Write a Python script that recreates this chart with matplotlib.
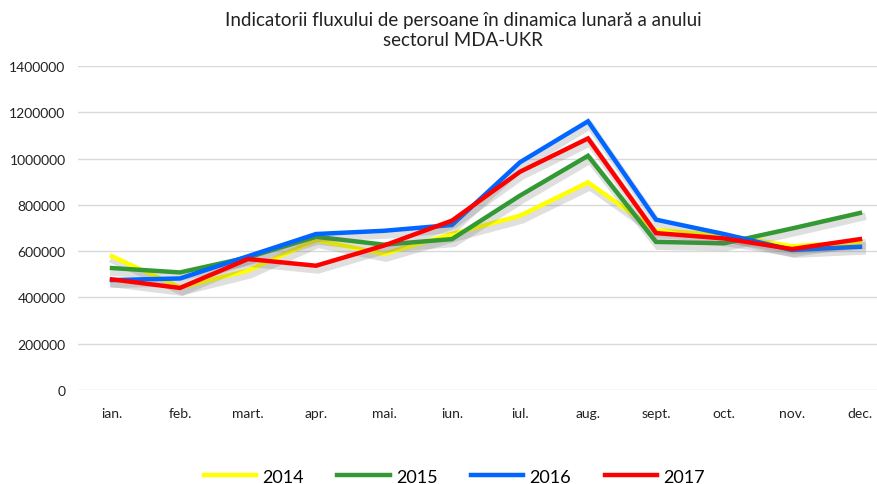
import matplotlib
matplotlib.use("Agg")
import matplotlib.pyplot as plt
import matplotlib.patheffects as pe
import numpy as np

plt.rcParams['font.family'] = ['Lato', 'DejaVu Sans']

months = ["ian.", "feb.", "mart.", "apr.", "mai.", "iun.", "iul.", "aug.", "sept.", "oct.", "nov.", "dec."]
y2014 = [578000, 443000, 516000, 648000, 588000, 674000, 753000, 897000, 690000, 670000, 621000, 640000]
y2015 = [527000, 508000, 573000, 662000, 628000, 652000, 840000, 1012000, 640000, 634000, 698000, 765000]
y2016 = [475000, 482000, 578000, 674000, 688000, 713000, 984000, 1161000, 736000, 674000, 605000, 619000]
y2017 = [478000, 441000, 566000, 537000, 624000, 732000, 943000, 1087000, 678000, 655000, 609000, 652000]

series = [("2014", y2014, "#FFFF00"), ("2015", y2015, "#339933"),
          ("2016", y2016, "#0066FF"), ("2017", y2017, "#FF0000")]

fig = plt.figure(figsize=(8.77, 4.85), dpi=100)
ax = fig.add_axes([78/877, 1-391/485, 816/877, (391-67)/485])

x = np.arange(len(months))
shadow = [pe.SimpleLineShadow(offset=(1.5, -3), shadow_color='#707070', alpha=0.22, linewidth=5.5),
          pe.Normal()]
for name, vals, col in series:
    ax.plot(x, vals, color=col, lw=3.2, label=name, path_effects=shadow, solid_joinstyle='miter')

ax.set_xlim(-0.5, 11.5)
ax.set_ylim(0, 1400000)
ax.set_yticks(np.arange(0, 1400001, 200000))
ax.set_yticklabels([str(v) for v in range(0, 1400001, 200000)])
ax.set_xticks(x)
ax.set_xticklabels(months)
ax.grid(axis='y', color='#d9d9d9', lw=1)
ax.set_axisbelow(True)
for s in ax.spines.values():
    s.set_visible(False)
ax.tick_params(axis='both', length=0, labelsize=10, colors='#222222')
ax.tick_params(axis='x', pad=12)
ax.tick_params(axis='y', pad=9)

fig.text(0.528, 0.975, "Indicatorii fluxului de persoane în dinamica lunară a anului\nsectorul MDA-UKR",
         ha='center', va='top', fontsize=13.5, color='#222222', linespacing=1.2)

leg = fig.legend(loc='center', bbox_to_anchor=(0.518, 0.015), ncol=4, frameon=False,
                 fontsize=13, handlelength=2.9, columnspacing=1.85, handletextpad=0.35)
for h in leg.get_lines():
    h.set_path_effects([pe.Normal()])
    h.set_linewidth(3.2)

fig.savefig("out.png", dpi=100)
